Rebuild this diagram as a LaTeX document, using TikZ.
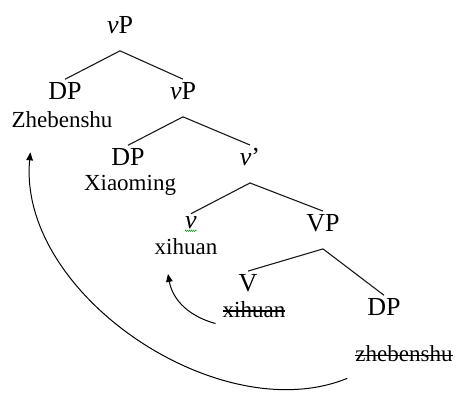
\documentclass[tikz,border=0pt]{standalone}
\usepackage{fontspec}
\setmainfont{Liberation Serif}
\usetikzlibrary{trees,arrows.meta,decorations.pathmorphing}

\newcommand{\catfont}{\fontsize{26}{30}\selectfont}
\newcommand{\wordfont}{\fontsize{23}{27}\selectfont}
\newcommand{\strikeword}[1]{\setbox0\hbox{#1}\rlap{\raisebox{0.24em}{\rule{\wd0}{0.06em}}}\box0}

\begin{document}
\begin{tikzpicture}[sibling distance=120pt, level distance=66pt,
      every node/.style = {font=\catfont, inner sep=3pt},
      every label/.style = {font=\wordfont},
      label distance=3pt,
      edge from parent/.style = {draw, line width=1.1pt, black!90},
      edge from parent path = {([yshift=-14pt]\tikzparentnode.south) -- (\tikzchildnode.north)},
      move/.style = {-{Triangle[length=8pt, width=6.5pt]}, line width=1pt}]
    \useasboundingbox (0,0) rectangle (456pt,-392pt);
    \node (vp1) at (120pt,-25pt) {\textit{v}P}
      child[xshift=5pt] {node (dp1) [label={[name=zhebenshu, xshift=-3pt, label distance=6pt]below:Zhebenshu}] {DP}}
      child[xshift=3pt] {node (vp2) {\textit{v}P}
        child[xshift=5pt] {node (dp2) [label={[name=xiaoming, xshift=2pt]below:Xiaoming}] {DP}}
        child[xshift=7pt] {node (vbar) {\textit{v}'}
          child[xshift=1pt] {node (v) [label={[name=xihuan, xshift=-5pt]below:xihuan}] {\textit{v}}}
          child[xshift=13pt] {node (vp3) {VP}
            child[xshift=-15pt, yshift=6pt] {node (V) [label={[name=xihuanT, xshift=6pt]below:\strikeword{xihuan}}] {V}}
            child[xshift=1pt, yshift=-18pt] {node (dp3) [label={[name=zhebenshuT, xshift=20pt, label distance=24pt]below:\strikeword{zhebenshu}}] {DP}}
          }
        }
      };
    % spell-check squiggle under v
    \draw[green!60!black, line width=0.4pt, decorate, decoration={zigzag, segment length=2pt, amplitude=0.8pt}]
      ([xshift=3pt, yshift=1.5pt]v.south west) -- ([xshift=-3pt, yshift=1.5pt]v.south east);
    % movement arrows
    \draw[move] ([xshift=-4pt, yshift=-3pt]xihuanT.south west) to[out=165, in=-80] ([xshift=-18pt, yshift=-16pt]xihuan.south);
    \draw[move] ([xshift=-5pt, yshift=-13pt]zhebenshuT.south west)
      .. controls +(-127pt,-52pt) and +(-13pt,-142pt) .. ([xshift=22pt, yshift=-21pt]zhebenshu.south west);
\end{tikzpicture}
\end{document}
